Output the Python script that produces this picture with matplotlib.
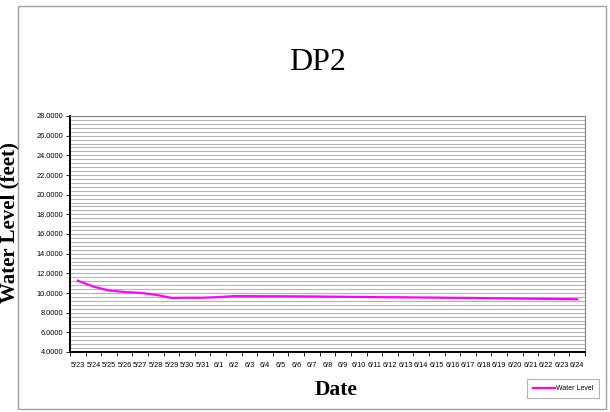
import matplotlib
matplotlib.use('Agg')
import matplotlib.pyplot as plt
from matplotlib.patches import Rectangle
from matplotlib.ticker import MultipleLocator, FormatStrFormatter
import numpy as np

dates = ['5/23', '5/24', '5/25', '5/26', '5/27', '5/28', '5/29', '5/30', '5/31',
         '6/1', '6/2', '6/3', '6/4', '6/5', '6/6', '6/7', '6/8', '6/9', '6/10',
         '6/11', '6/12', '6/13', '6/14', '6/15', '6/16', '6/17', '6/18', '6/19',
         '6/20', '6/21', '6/22', '6/23', '6/24']
water_level = [11.25, 10.65, 10.25, 10.10, 10.02, 9.82, 9.50, 9.52, 9.52,
               9.58, 9.68, 9.68, 9.67, 9.67, 9.66, 9.65, 9.63, 9.62, 9.60,
               9.58, 9.57, 9.56, 9.54, 9.53, 9.51, 9.50, 9.48, 9.46,
               9.44, 9.42, 9.40, 9.38, 9.36]

fig = plt.figure(figsize=(6.1, 4.12), dpi=100)
W, H = 610, 412

# chart frame
fig.patches.append(Rectangle((18 / W, 3 / H), 588 / W, 403 / H, transform=fig.transFigure,
                             fill=False, edgecolor='#a0a0a0', lw=1.0))

ax = fig.add_axes([70 / W, 1 - 352 / H, 515 / W, 236 / H])
x = np.arange(len(dates))
ax.plot(x, water_level, color='#ff00ff', lw=1.6, label='Water Level')

ax.set_xlim(-0.5, len(dates) - 0.5)
ax.set_ylim(4, 28)
ax.yaxis.set_major_locator(MultipleLocator(2))
ax.yaxis.set_minor_locator(MultipleLocator(0.4))
ax.yaxis.set_major_formatter(FormatStrFormatter('%.4f'))
ax.grid(True, which='both', axis='y', color='#b4b4b4', lw=0.8)
ax.set_axisbelow(True)

ax.set_xticks(x)
ax.set_xticklabels(dates)
ax.set_xticks(np.arange(len(dates) + 1) - 0.5, minor=True)
ax.tick_params(axis='x', which='major', length=0, pad=7, labelsize=5.3)
ax.tick_params(axis='x', which='minor', length=3, direction='out', width=0.6)
ax.tick_params(axis='y', which='major', length=3, width=0.6, labelsize=5.3, pad=2)
ax.tick_params(axis='y', which='minor', length=0)
for lab in ax.get_xticklabels() + ax.get_yticklabels():
    lab.set_fontfamily('Liberation Sans')

for s in ['top', 'right']:
    ax.spines[s].set_color('#808080')
    ax.spines[s].set_linewidth(0.8)
for s in ['left', 'bottom']:
    ax.spines[s].set_color('black')
    ax.spines[s].set_linewidth(1.4)

fig.text(318 / W, 1 - 63 / H, 'DP2', fontsize=23, family='Liberation Serif',
         ha='center', va='center')
fig.text(336 / W, 1 - 390 / H, 'Date', fontsize=15.5, family='Liberation Serif',
         fontweight='bold', ha='center', va='center')
fig.text(9 / W, 1 - 223 / H, 'Water Level (feet)', fontsize=15, family='Liberation Serif',
         fontweight='bold', ha='center', va='center', rotation=90)

leg = fig.legend(loc='center', bbox_to_anchor=(563 / W, 1 - 388.5 / H),
                 prop={'family': 'Liberation Sans', 'size': 5}, frameon=True,
                 fancybox=False, handlelength=3.2, handletextpad=0.1,
                 borderpad=0.9, borderaxespad=0)
leg.get_frame().set_edgecolor('#a0a0a0')
leg.get_frame().set_linewidth(0.8)

fig.savefig('out.png', dpi=100)
